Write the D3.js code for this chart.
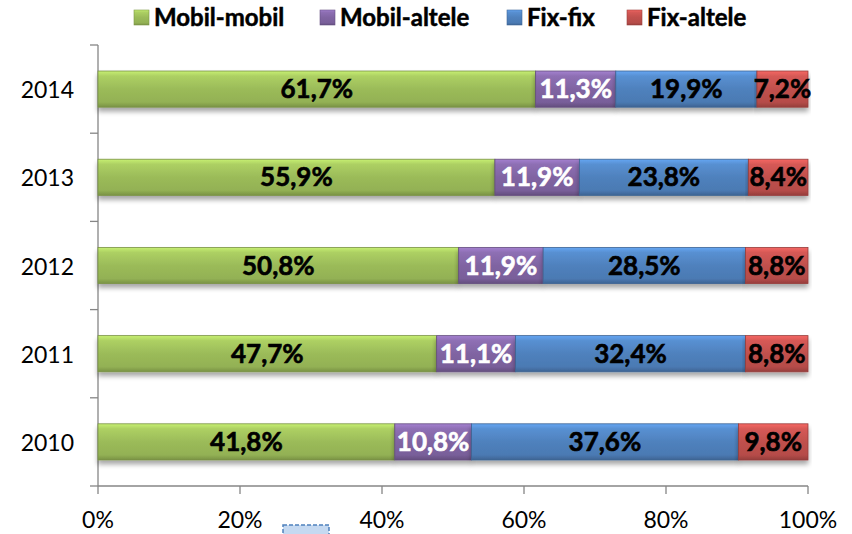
<!DOCTYPE html>
<html><head><meta charset="utf-8">
<script src="https://cdn.jsdelivr.net/npm/d3@7"></script>
<style>body{margin:0;background:#fff}svg{display:block}text{font-family:Lato,"Open Sans",sans-serif}</style>
</head><body><svg id="c" width="852" height="534"></svg>
<script>
const years = ["2014","2013","2012","2011","2010"];
const seriesNames = ["Mobil-mobil","Mobil-altele","Fix-fix","Fix-altele"];
const mobilMobil = [61.7,55.9,50.8,47.7,41.8];
const mobilAltele = [11.3,11.9,11.9,11.1,10.8];
const fixFix = [19.9,23.8,28.5,32.4,37.6];
const fixAltele = [7.2,8.4,8.8,8.8,9.8];
const xTicks = [0,0.2,0.4,0.6,0.8,1];
const colors = ["#9bbb59","#8064a2","#4f81bd","#c0504d"];
const labelColors = ["#000","#fff","#000","#000"];

const svg = d3.select("#c");
const m = {l:98, r:44, t:45, b:48};
const W = 852, H = 534;
const x = d3.scaleLinear().domain([0,1]).range([m.l, W-m.r]);
const y = d3.scaleBand().domain(years).range([m.t, H-m.b]).paddingInner(0.59).paddingOuter(0.295);

const rows = years.map((yr,i)=>({year:yr,"Mobil-mobil":mobilMobil[i],"Mobil-altele":mobilAltele[i],"Fix-fix":fixFix[i],"Fix-altele":fixAltele[i]}));
const stack = d3.stack().keys(seriesNames).offset(d3.stackOffsetExpand);
const series = stack(rows);

const defs = svg.append("defs");
colors.forEach((c,i)=>{
  const g = defs.append("linearGradient").attr("id","g"+i).attr("x1",0).attr("y1",0).attr("x2",0).attr("y2",1);
  const cc = d3.color(c);
  g.append("stop").attr("offset","0%").attr("stop-color",cc.brighter(0.7));
  g.append("stop").attr("offset","14%").attr("stop-color",cc.brighter(0.3));
  g.append("stop").attr("offset","50%").attr("stop-color",c);
  g.append("stop").attr("offset","86%").attr("stop-color",cc.darker(0.15));
  g.append("stop").attr("offset","100%").attr("stop-color",cc.darker(0.7));
});
const f = defs.append("filter").attr("id","sh").attr("x","-5%").attr("y","-20%").attr("width","110%").attr("height","160%");
f.append("feGaussianBlur").attr("in","SourceAlpha").attr("stdDeviation",2.5);
f.append("feOffset").attr("dx",0).attr("dy",4).attr("result","o");
f.append("feComponentTransfer").append("feFuncA").attr("type","linear").attr("slope",0.35);
const mg = f.append("feMerge"); mg.append("feMergeNode"); mg.append("feMergeNode").attr("in","SourceGraphic");

// axes
const axisColor = "#868686";
svg.append("line").attr("x1",x(0)).attr("x2",x(1)).attr("y1",H-m.b).attr("y2",H-m.b).attr("stroke",axisColor).attr("stroke-width",1.3);
svg.append("line").attr("x1",x(0)).attr("x2",x(0)).attr("y1",m.t).attr("y2",H-m.b).attr("stroke",axisColor).attr("stroke-width",1.3);
xTicks.forEach(t=>{
  svg.append("line").attr("x1",x(t)).attr("x2",x(t)).attr("y1",H-m.b).attr("y2",H-m.b+8).attr("stroke",axisColor).attr("stroke-width",1.3);
  svg.append("text").attr("x",x(t)).attr("y",H-m.b+42).attr("text-anchor","middle").attr("font-size",23).attr("fill","#000").text(Math.round(t*100)+"%");
});
const step = y.step();
d3.range(years.length+1).forEach(i=>{
  const yy = y(years[0]) + y.bandwidth()/2 - step/2 + i*step;
  svg.append("line").attr("x1",x(0)-8).attr("x2",x(0)).attr("y1",yy).attr("y2",yy).attr("stroke",axisColor).attr("stroke-width",1.3);
});
years.forEach(yr=>{
  svg.append("text").attr("x",74).attr("y",y(yr)+y.bandwidth()/2+9).attr("text-anchor","end").attr("font-size",23).attr("fill","#000").text(yr);
});

// bars
series.forEach((s,si)=>{
  const g = svg.append("g");
  s.forEach(d=>{
    g.append("rect").attr("x",x(d[0])).attr("y",y(d.data.year)).attr("width",x(d[1])-x(d[0])).attr("height",y.bandwidth())
      .attr("fill","url(#g"+si+")").attr("stroke",d3.color(colors[si]).darker(0.7)).attr("stroke-width",0.8).attr("filter","url(#sh)");
  });
});
series.forEach((s,si)=>{
  s.forEach(d=>{
    const v = d.data[s.key];
    svg.append("text").attr("x",(x(d[0])+x(d[1]))/2).attr("y",y(d.data.year)+y.bandwidth()/2+9)
      .attr("text-anchor","middle").attr("font-size",26).attr("font-weight","bold").attr("fill",labelColors[si])
      .attr("stroke",labelColors[si]).attr("stroke-width",0.6)
      .text(v.toFixed(1).replace(".",",")+"%");
  });
});

// legend
const legX = [134,320,507,627];
seriesNames.forEach((n,i)=>{
  svg.append("rect").attr("x",legX[i]).attr("y",10).attr("width",15).attr("height",15).attr("fill","url(#g"+i+")").attr("stroke",d3.color(colors[i]).darker(0.6)).attr("stroke-width",0.6);
  svg.append("text").attr("x",legX[i]+20).attr("y",26).attr("font-size",24).attr("font-weight","bold").attr("fill","#000").attr("stroke","#000").attr("stroke-width",0.5).text(n);
});

// small artifact at bottom
svg.append("rect").attr("x",283).attr("y",525).attr("width",46).attr("height",12).attr("fill","#c5d9f1").attr("stroke","#4f81bd").attr("stroke-width",1.5).attr("stroke-dasharray","4,2");
</script></body></html>
